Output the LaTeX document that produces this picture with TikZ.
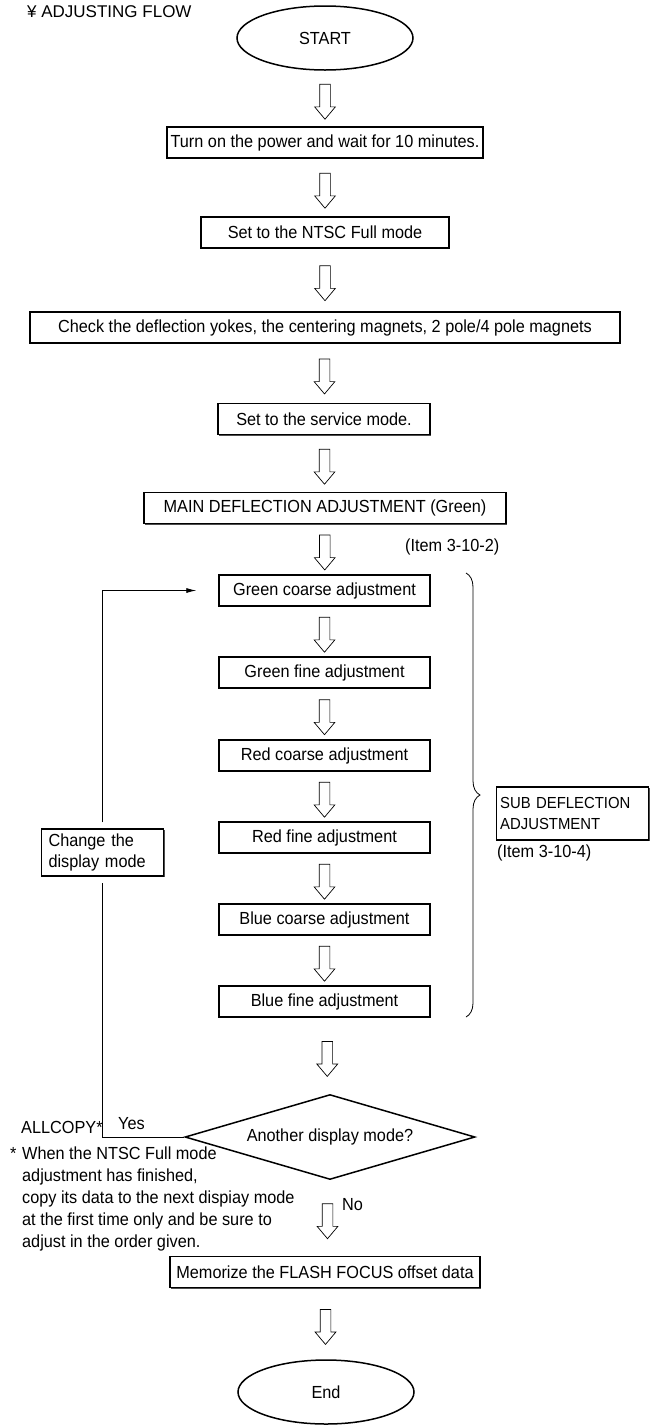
\documentclass[tikz,border=0pt]{standalone}
\usepackage{fontspec}
\setmainfont{Liberation Sans}[FakeStretch=0.93]
\newfontfamily\titlefont{Liberation Sans}
\usetikzlibrary{shapes.geometric,shapes.arrows,decorations.pathreplacing,arrows.meta,shadows,calc}

\begin{document}
\begin{tikzpicture}[x=1pt,y=1pt,font=\fontsize{17.5}{21}\selectfont,
  box/.style={draw, line width=1.4pt, fill=white, minimum height=31pt, inner sep=0pt,
    drop shadow={shadow xshift=1.2pt, shadow yshift=-1.2pt, opacity=1, fill=black!70}},
  subbox/.style={box, minimum width=211pt},
  hollow/.style={single arrow, draw, line width=0.7pt, rotate=-90, minimum height=35pt,
    inner sep=5pt, single arrow head extend=5pt, single arrow tip angle=80},
  term/.style={ellipse, draw, line width=1.5pt, minimum width=176pt, minimum height=64pt},
  loop/.style={line width=0.8pt}]
  \useasboundingbox (0,0) rectangle (650,-1425);
  % heading
  \node[anchor=base west, inner sep=0pt, font=\titlefont\fontsize{17}{20}\selectfont] (title) at (27,-17) {¥ ADJUSTING FLOW};
  % main column
  \node[term] (start) at (325,-38) {START};
  \node[box, minimum width=316pt] (turnon) at (325,-142.5) {Turn on the power and wait for 10 minutes.};
  \node[box, minimum width=248pt] (ntsc) at (325,-232.5) {Set to the NTSC Full mode};
  \node[box, minimum width=590pt] (check) at (325,-327.5) {Check the deflection yokes, the centering magnets, 2 pole/4 pole magnets};
  \node[box, minimum width=212pt] (service) at (324,-419) {Set to the service mode.};
  \node[box, minimum width=362pt] (main) at (325,-508) {MAIN DEFLECTION ADJUSTMENT (Green)};
  \node[anchor=west, inner sep=0pt] (mainref) at (405,-547) {(Item 3-10-2)};
  % sub deflection steps
  \foreach \nm/\yy/\txt in {gc/590.5/Green coarse adjustment, gf/672.5/Green fine adjustment,
      rc/755.5/Red coarse adjustment, rf/837.5/Red fine adjustment,
      bc/919.5/Blue coarse adjustment, bf/1001.5/Blue fine adjustment}
    \node[subbox] (\nm) at (324.5,-\yy) {\txt};
  \node[diamond, draw, line width=1.5pt, aspect=3.4, minimum width=290pt, minimum height=85pt, inner sep=0pt] (another) at (330,-1137) {Another display mode?};
  \node[box, minimum width=310pt] (memo) at (325,-1272) {Memorize the FLASH FOCUS offset data};
  \node[term] (stop) at (326,-1392) {End};
  % hollow arrows between the steps
  \foreach \a/\b in {start/turnon, turnon/ntsc, ntsc/check, check/service, service/main, main/gc,
      gc/gf, gf/rc, rc/rf, rf/bc, bc/bf, bf/another, another/memo, memo/stop}
    \path (\a.south) -- (\b.north) node[midway, hollow] {};
  \node[anchor=base west, inner sep=0pt] (no) at (342,-1210) {No};
  % brace and sub deflection note
  \draw[line width=0.8pt, decorate, decoration={brace, amplitude=14pt}] (466,-573) -- (466,-1017);
  \node[box, anchor=west, align=left, text width=145pt, inner xsep=3.5pt, minimum height=53pt,
    font=\fontsize{16}{21}\selectfont] (sub) at (496,-813.5) {SUB DEFLECTION\\ADJUSTMENT};
  \node[anchor=west, inner sep=0pt] (subref) at (497,-853) {(Item 3-10-4)};
  % loop back
  \node[box, align=left, text width=108pt, inner xsep=7pt, minimum height=47pt] (chg) at (102.5,-852.5) {Change the\\display mode};
  \coordinate (loopin) at ($(gc.west)+(-22,0)$);
  \draw[loop] (another.west) -| ([yshift=-6pt]chg.south);
  \draw[loop, -{Latex[length=10pt,width=5pt]}] ([yshift=6pt]chg.north) |- (loopin);
  \node[anchor=base west, inner sep=0pt] (allcopy) at (21,-1133) {ALLCOPY*};
  \node[anchor=base west, inner sep=0pt] (yes) at (118,-1129) {Yes};
  % footnote
  \node[anchor=base west, inner sep=0pt] (star) at (10,-1159) {*};
  \foreach \i/\txt in {0/When the NTSC Full mode, 1/{adjustment has finished,},
      2/copy its data to the next dispiay mode, 3/at the first time only and be sure to,
      4/adjust in the order given.}
    \node[anchor=base west, inner sep=0pt] (note\i) at (22,{-1159-22*\i}) {\txt};
\end{tikzpicture}
\end{document}
